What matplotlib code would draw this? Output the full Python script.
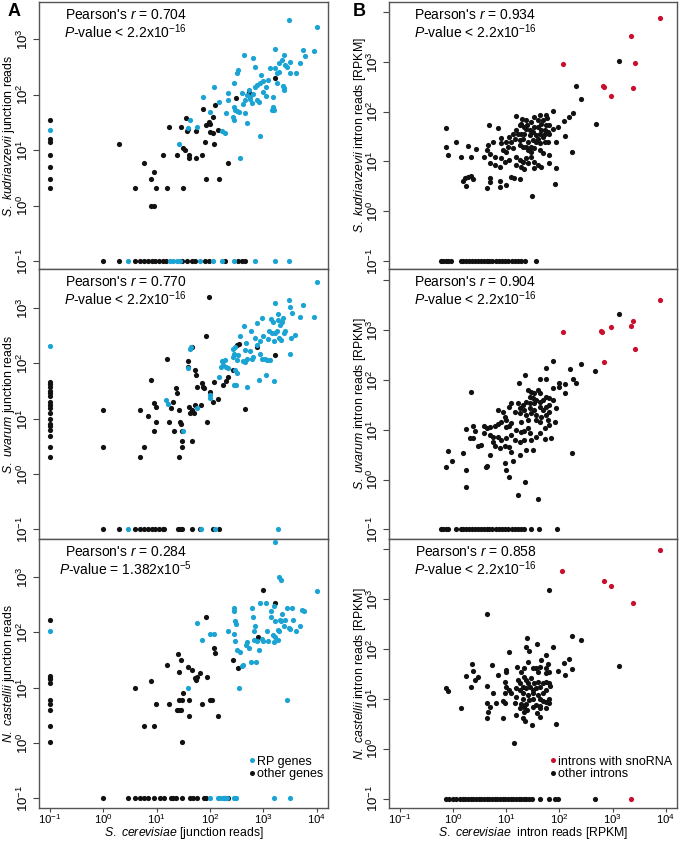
import numpy as np
import matplotlib
matplotlib.use("Agg")
import matplotlib.pyplot as plt
from matplotlib.lines import Line2D
from matplotlib.ticker import NullLocator

plt.rcParams['font.family'] = ['Liberation Sans', 'DejaVu Sans']
plt.rcParams['mathtext.fontset'] = 'custom'
plt.rcParams['mathtext.rm'] = 'Liberation Sans'
plt.rcParams['mathtext.it'] = 'Liberation Sans:italic'
plt.rcParams['mathtext.bf'] = 'Liberation Sans:bold'

CYAN = '#1aa3d3'
RED = '#c8102e'
BLACK = '#111111'

# all values are log10(reads); zero counts are drawn at 0.1 (log10 = -1)
# ---------------- panel A, S. kudriavzevii ----------------
a1_rp = [(1.42, 1.11), (1.58, 1.40), (1.63, 1.54), (1.75, 1.42), (1.86, 1.96), (2.00, 1.69), (2.08, 2.14),
         (2.16, 1.87), (2.22, 1.35), (2.28, 1.30), (2.30, 1.66), (2.33, 1.91), (2.34, 2.03), (2.43, 1.59),
         (2.44, 2.21), (2.44, 1.54), (2.45, 1.77), (2.47, 1.72), (2.51, 1.70), (2.55, 1.68), (2.50, 2.38),
         (2.53, 2.45), (2.56, 0.85), (2.59, 2.03), (2.61, 1.83), (2.63, 2.71), (2.66, 1.67), (2.70, 1.49),
         (2.70, 2.00), (2.72, 2.09), (2.75, 1.96), (2.75, 1.92), (2.78, 1.84), (2.81, 2.66), (2.84, 2.50),
         (2.84, 2.14), (2.88, 2.18), (2.93, 2.21), (2.88, 1.90), (2.91, 1.87), (2.94, 1.25), (2.96, 2.36),
         (3.00, 2.24), (3.04, 2.13), (3.05, 1.97), (3.09, 2.26), (3.13, 2.48), (3.17, 1.77), (3.19, 1.73),
         (3.16, 1.72), (3.18, 1.96), (3.22, 2.82), (3.22, 2.47), (3.25, 2.39), (3.30, 2.41), (3.30, 2.57),
         (3.34, 2.62), (3.36, 2.15), (3.39, 2.11), (3.39, 2.08), (3.38, 2.71), (3.41, 2.53), (3.44, 2.50),
         (3.47, 3.35), (3.49, 2.58), (3.50, 2.39), (3.61, 2.38), (3.69, 2.56), (3.75, 2.80), (3.77, 2.70),
         (3.94, 2.78), (4.01, 3.21), (2.66, 1.90), (2.81, 2.01), (3.00, 2.05), (3.25, 2.20)]
a1_other = [(0.29, 1.11), (0.59, 0.31), (0.77, 0.77), (0.89, 0.48), (0.94, 0.61), (0.99, 0.31), (0.89, 0.0),
            (0.95, 0.0), (1.11, 0.91), (1.20, 0.31), (1.23, 1.42), (1.38, 0.91), (1.45, 1.42), (1.49, 0.31),
            (1.50, 1.04), (1.53, 1.00), (1.58, 1.38), (1.55, 1.58), (1.56, 1.34), (1.61, 0.91), (1.61, 0.85),
            (1.73, 1.34), (1.73, 0.85), (1.84, 0.91), (1.86, 1.74), (1.91, 1.14), (1.92, 0.48), (1.93, 1.45),
            (1.98, 1.51), (2.00, 1.47), (2.00, 1.32), (2.05, 1.60), (2.06, 1.30), (2.08, 1.11), (2.09, 1.82),
            (2.14, 1.36), (2.16, 0.48), (2.34, 0.77), (2.49, 1.93), (2.72, 2.04), (3.21, 2.30)]
a1_rp_cer0 = [1.36]
a1_other_cer0 = [1.54, 1.19, 1.14, 0.91, 0.70, 0.48, 0.31]
a1_rp_sp0 = [0.47, 1.25, 1.31, 1.38, 1.44, 1.81, 2.06, 2.22, 2.44, 2.84, 3.22, 3.47]
a1_other_sp0 = [0.0, 0.29, 0.59, 0.69, 0.76, 0.83, 0.91, 0.97, 1.04, 1.11, 1.17, 1.47, 1.56, 1.66, 1.72,
                1.91, 1.97, 2.28, 2.53, 2.59, 2.66]

# ---------------- panel A, S. uvarum ----------------
a2_rp = [(1.17, 1.34), (1.22, 1.27), (1.50, 0.77), (1.58, 1.92), (1.63, 2.27), (1.64, 2.30), (1.75, 1.19),
         (2.00, 1.43), (2.00, 1.38), (2.16, 1.76), (2.20, 1.94), (2.22, 2.05), (2.25, 2.05), (2.28, 2.06),
         (2.30, 1.94), (2.33, 1.91), (2.25, 1.97), (2.43, 2.27), (2.43, 2.11), (2.44, 2.18), (2.46, 2.30),
         (2.44, 1.61), (2.48, 1.61), (2.47, 1.88), (2.50, 1.82), (2.51, 2.06), (2.53, 2.15), (2.56, 2.49),
         (2.61, 2.05), (2.63, 2.67), (2.66, 2.24), (2.66, 2.03), (2.67, 2.37), (2.69, 1.58), (2.70, 2.08),
         (2.74, 2.23), (2.76, 2.58), (2.78, 2.09), (2.81, 2.11), (2.84, 2.46), (2.88, 2.73), (2.91, 1.70),
         (2.88, 2.33), (2.94, 2.41), (2.94, 2.18), (2.97, 2.09), (2.97, 2.82), (3.00, 2.49), (3.04, 1.79),
         (3.03, 2.09), (3.06, 2.06), (3.08, 2.44), (3.11, 2.59), (3.13, 2.06), (3.14, 2.81), (3.16, 2.56),
         (3.18, 2.76), (3.19, 1.69), (3.20, 2.40), (3.22, 3.09), (3.22, 2.55), (3.25, 2.58), (3.27, 2.90),
         (3.28, 2.79), (3.30, 2.46), (3.31, 2.70), (3.33, 2.43), (3.34, 2.76), (3.36, 2.83), (3.38, 2.55),
         (3.41, 2.58), (3.47, 3.15), (3.49, 3.02), (3.50, 2.18), (3.51, 2.46), (3.53, 2.91), (3.59, 2.52),
         (3.68, 2.85), (3.75, 3.06), (3.94, 2.85), (4.01, 3.48)]
a2_other = [(0.00, 1.15), (0.00, 0.48), (0.69, 1.15), (0.69, 0.30), (0.77, 0.48), (0.83, 1.05), (0.89, 1.70),
            (0.95, 1.28), (0.99, 1.21), (0.94, 0.78), (0.99, 0.95), (1.19, 2.08), (1.23, 0.95), (1.27, 1.19),
            (1.31, 1.30), (1.36, 1.56), (1.38, 1.47), (1.33, 0.78), (1.41, 1.16), (1.44, 0.95), (1.45, 0.90),
            (1.47, 0.78), (1.47, 0.60), (1.48, 0.49), (1.42, 0.30), (1.58, 1.94), (1.59, 2.05), (1.61, 1.21),
            (1.63, 1.10), (1.66, 2.29), (1.66, 0.60), (1.67, 1.16), (1.72, 1.88), (1.73, 1.79), (1.75, 1.58),
            (1.69, 1.11), (1.72, 1.25), (1.83, 1.25), (1.84, 1.64), (1.86, 1.57), (1.89, 1.55), (1.93, 2.49),
            (1.95, 0.95), (1.98, 3.21), (1.99, 1.48), (2.06, 1.30), (2.08, 1.66), (2.14, 1.35), (2.25, 1.61),
            (2.30, 1.68), (2.34, 1.76), (2.43, 1.89), (2.50, 2.33), (2.55, 2.35), (2.66, 1.17), (2.88, 2.30),
            (3.22, 2.15)]
a2_rp_cer0 = [2.32]
a2_other_cer0 = [1.66, 1.62, 1.57, 1.51, 1.46, 1.41, 1.30, 1.25, 1.20, 1.10, 1.00, 0.90, 0.86, 0.80,
                 0.69, 0.48, 0.30]
a2_rp_sp0 = [0.47, 1.83, 2.09, 3.28]
a2_other_sp0 = [0.0, 0.29, 0.59, 0.69, 0.76, 0.83, 0.91, 0.97, 1.04, 1.11, 1.14, 1.39, 1.44, 1.48, 1.66,
                1.81, 2.06, 2.16]

# ---------------- panel A, N. castellii ----------------
a3_rp = [(1.75, 2.17), (1.84, 1.86), (1.99, 1.97), (2.08, 1.97), (2.33, 2.03), (2.44, 2.44), (2.44, 2.38),
         (2.47, 2.20), (2.48, 2.15), (2.44, 1.98), (2.47, 1.85), (2.51, 1.68), (2.56, 1.65), (2.54, 1.00),
         (2.59, 1.39), (2.61, 1.41), (2.68, 1.77), (2.69, 1.82), (2.72, 1.71), (2.77, 1.47), (2.79, 2.44),
         (2.81, 2.27), (2.84, 2.11), (2.83, 2.02), (2.83, 1.86), (2.86, 1.47), (2.91, 1.68), (2.88, 1.85),
         (2.94, 2.53), (2.97, 1.88), (2.99, 1.85), (3.05, 2.53), (3.06, 2.02), (3.09, 1.85), (3.14, 2.27),
         (3.14, 2.38), (3.18, 1.95), (3.19, 2.48), (3.20, 1.82), (3.22, 2.20), (3.22, 1.92), (3.28, 2.05),
         (3.28, 1.86), (3.30, 2.02), (3.31, 2.23), (3.33, 2.20), (3.34, 2.33), (3.38, 2.11), (3.41, 2.23),
         (3.44, 2.45), (3.45, 0.78), (3.47, 2.08), (3.50, 2.06), (3.53, 2.45), (3.56, 2.23), (3.61, 2.03),
         (3.69, 2.11), (3.73, 2.41), (3.76, 2.38), (4.00, 2.74), (1.58, 1.00), (3.29, 3.01), (3.33, 2.95),
         (3.22, 3.63)]
a3_other = [(0.59, 1.00), (0.77, 0.31), (0.89, 1.12), (0.95, 0.31), (0.99, 0.70), (1.20, 1.41), (1.23, 0.70),
            (1.39, 1.61), (1.42, 1.28), (1.45, 1.50), (1.42, 0.78), (1.42, 0.60), (1.45, 0.60), (1.47, 0.01),
            (1.49, 0.90), (1.58, 1.38), (1.61, 0.78), (1.61, 0.48), (1.66, 1.32), (1.72, 1.17), (1.73, 1.14),
            (1.76, 1.20), (1.81, 1.26), (1.84, 0.70), (1.94, 1.20), (1.93, 2.27), (2.00, 0.78), (2.04, 0.78),
            (2.08, 1.71), (2.09, 1.62), (2.14, 0.48), (2.43, 1.51), (2.53, 1.35), (2.89, 1.91), (2.99, 2.77),
            (3.22, 2.53), (1.47, 0.78), (1.38, 0.60)]
a3_rp_cer0 = [2.03]
a3_other_cer0 = [2.23, 1.21, 1.18, 1.15, 1.08, 0.78, 0.70, 0.60, 0.31, 0.01]
a3_rp_sp0 = [2.00, 2.14, 2.19, 2.24, 2.28, 2.31, 2.44, 2.48, 3.20, 3.49]
a3_other_sp0 = [0.00, 0.46, 0.59, 0.69, 0.77, 0.84, 0.94, 1.06, 1.13, 1.26, 1.31, 1.36, 1.47, 1.63, 1.68,
                1.75, 1.88, 1.93, 2.26, 2.34]

# ---------------- panel B, S. kudriavzevii (RPKM) ----------------
b1_sno = [(2.06, 2.95), (2.81, 2.51), (2.83, 2.50), (2.97, 2.32), (3.34, 3.52), (3.42, 2.98), (3.38, 2.47),
          (3.89, 3.87)]
b1_other = [(2.31, 2.51), (2.41, 2.26), (-0.13, 1.68), (-0.14, 1.29), (-0.09, 1.13), (0.05, 1.39), (0.14, 1.08),
            (0.28, 1.31), (0.33, 1.08), (0.43, 1.25), (0.68, 1.74), (0.84, 1.68), (0.63, 1.23), (0.66, 1.33),
            (0.75, 1.39), (0.91, 1.48), (0.59, 1.08), (0.69, 1.15), (1.18, 1.91), (1.30, 1.86), (1.25, 1.73),
            (1.39, 1.74), (1.59, 1.83), (1.74, 1.93), (1.76, 1.88), (1.88, 2.01), (2.09, 1.82), (2.18, 1.90),
            (2.25, 1.98), (1.97, 1.70), (2.11, 1.51), (2.24, 1.19), (1.06, 1.49), (1.13, 1.56), (1.22, 1.55),
            (1.28, 1.56), (1.38, 1.66), (1.44, 1.63), (1.53, 1.70), (1.59, 1.70), (1.66, 1.63), (1.72, 1.63),
            (1.78, 1.60), (1.81, 1.56), (1.31, 1.46), (1.41, 1.39), (1.50, 1.43), (1.56, 1.39), (1.63, 1.36),
            (1.72, 1.39), (1.78, 1.39), (1.56, 1.53), (1.63, 1.56), (1.69, 1.49), (1.88, 1.66), (1.94, 1.39),
            (0.91, 1.36), (1.00, 1.39), (1.03, 1.29), (1.25, 1.33), (1.31, 1.29), (1.41, 1.23), (1.47, 1.19),
            (1.63, 1.23), (1.69, 1.16), (1.81, 1.13), (0.94, 1.23), (1.00, 1.19), (0.78, 1.09), (0.91, 1.06),
            (1.19, 1.09), (1.25, 1.03), (1.31, 0.99), (1.38, 1.06), (1.47, 1.09), (1.41, 0.96), (0.69, 0.96),
            (0.78, 0.93), (0.88, 0.89), (0.97, 0.99), (1.06, 1.03), (1.19, 0.93), (1.28, 0.88), (1.34, 0.84),
            (1.53, 0.99), (1.59, 0.93), (1.53, 0.86), (1.66, 0.89), (1.81, 0.97), (1.94, 0.86), (0.22, 0.67),
            (0.28, 0.69), (0.34, 0.71), (0.38, 0.65), (0.19, 0.61), (0.24, 0.51), (0.69, 0.67), (0.70, 0.59),
            (0.89, 0.61), (1.09, 0.69), (1.14, 0.66), (1.25, 0.65), (0.63, 0.46), (0.89, 0.48), (1.00, 0.53),
            (1.91, 0.55), (1.49, 0.31), (3.11, 3.02), (2.68, 1.76), (1.28, 1.76), (1.34, 1.70), (1.47, 1.80),
            (1.50, 1.60), (1.66, 1.76), (1.69, 1.83), (1.75, 1.73), (1.63, 1.93), (1.53, 1.90), (1.44, 1.53),
            (1.34, 1.56), (1.19, 1.63), (1.16, 1.46), (1.09, 1.39), (1.38, 1.83), (1.81, 1.73), (1.72, 1.56),
            (1.59, 1.46), (1.47, 1.29), (1.53, 1.26), (1.38, 1.29), (1.25, 1.43), (1.13, 1.26)]
b1_other_sp0 = [-0.23, -0.19, -0.14, -0.09, -0.04, 0.14, 0.19, 0.24, 0.30, 0.36, 0.41, 0.46, 0.52, 0.58,
                0.63, 0.68, 0.74, 0.80, 0.86, 0.92, 0.98, 1.04, 1.10, 1.16, 1.22, 1.28, 1.36, 1.56]

# ---------------- panel B, S. uvarum (RPKM) ----------------
b2_sno = [(2.06, 2.95), (2.79, 2.98), (2.80, 2.95), (2.97, 3.05), (3.34, 3.07), (3.38, 3.18), (3.42, 2.61),
          (2.83, 2.35), (3.89, 3.59)]
b2_other = [(3.11, 3.31), (-0.14, 0.26), (-0.09, 0.57), (-0.03, 0.37), (0.24, 0.19), (0.24, -0.14),
            (1.22, -0.30), (1.36, -0.04), (1.59, -0.39), (2.24, 0.53), (2.41, 2.31), (2.67, 2.18),
            (1.88, 2.38), (1.74, 2.24), (2.19, 2.21), (2.25, 2.01), (2.31, 1.94), (1.36, 2.09), (1.64, 2.01),
            (1.74, 2.01), (1.23, 1.94), (1.88, 1.84), (1.99, 1.94), (1.99, 1.86), (2.11, 1.91), (2.11, 1.73),
            (0.33, 1.76), (1.41, 1.80), (1.47, 1.76), (1.53, 1.73), (1.59, 1.80), (1.63, 1.73), (1.44, 1.66),
            (1.50, 1.63), (1.56, 1.60), (1.38, 1.56), (1.44, 1.53), (1.53, 1.53), (1.63, 1.56), (1.69, 1.60),
            (1.75, 1.66), (1.81, 1.63), (1.22, 1.53), (1.31, 1.49), (1.25, 1.43), (1.34, 1.40), (1.44, 1.43),
            (1.53, 1.40), (1.63, 1.46), (1.69, 1.40), (1.75, 1.46), (1.81, 1.49), (1.88, 1.60), (1.16, 1.36),
            (1.25, 1.33), (1.38, 1.29), (1.47, 1.33), (1.56, 1.29), (1.66, 1.26), (1.75, 1.29), (1.81, 1.36),
            (1.94, 1.43), (1.91, 1.16), (1.78, 1.19), (1.63, 1.16), (1.56, 1.19), (1.41, 1.19), (1.28, 1.16),
            (1.09, 1.53), (1.06, 1.46), (0.84, 1.39), (0.94, 1.36), (0.97, 1.26), (1.00, 1.19), (0.25, 1.01),
            (0.38, 1.07), (0.41, 0.98), (0.59, 1.07), (0.63, 1.03), (0.69, 1.05), (0.78, 1.07), (0.84, 1.11),
            (0.91, 1.16), (1.00, 1.05), (1.06, 1.07), (1.09, 1.13), (0.59, 0.93), (0.69, 0.89), (0.75, 0.86),
            (0.84, 0.86), (0.91, 0.79), (1.00, 0.83), (1.09, 0.89), (1.19, 0.99), (1.28, 0.96), (1.34, 0.98),
            (1.41, 1.03), (1.44, 0.93), (0.31, 0.84), (0.38, 0.83), (0.47, 0.67), (0.53, 0.69), (0.75, 0.76),
            (0.78, 0.67), (0.88, 0.63), (0.97, 0.67), (1.06, 0.66), (1.16, 0.79), (1.25, 0.76), (1.34, 0.79),
            (1.47, 0.79), (1.56, 0.86), (1.63, 0.93), (1.72, 1.03), (1.81, 1.09), (0.19, 0.54), (0.69, 0.49),
            (1.09, 0.56), (1.25, 0.49), (1.38, 0.59), (1.50, 0.59), (1.72, 0.81), (1.84, 0.83), (0.61, 0.26),
            (0.64, 0.28), (0.98, 0.34), (0.99, 0.19), (1.06, 0.06), (1.13, 0.37)]
b2_other_sp0 = [-0.23, -0.19, -0.14, -0.09, 0.05, 0.14, 0.19, 0.24, 0.30, 0.36, 0.41, 0.46, 0.52, 0.58,
                0.63, 0.68, 0.74, 0.80, 0.86, 0.92, 0.98, 1.04, 1.10, 1.16, 1.22, 1.28, 1.33, 1.47, 1.61, 1.95]

# ---------------- panel B, N. castellii (RPKM) ----------------
b3_sno = [(2.05, 3.55), (2.83, 3.35), (2.97, 3.25), (3.38, 2.91), (3.89, 3.97)]
b3_sno_sp0 = [3.34]
b3_other = [(1.80, 3.17), (0.63, 2.70), (3.11, 1.66), (2.24, 2.26), (2.41, 2.18), (1.14, 0.12), (1.39, 2.21),
            (1.05, 1.93), (1.38, 2.04), (1.43, 1.96), (1.58, 2.09), (1.88, 2.03), (1.74, 1.88), (1.41, 1.74),
            (1.66, 1.78), (0.36, 1.70), (0.38, 1.56), (0.24, 1.46), (0.47, 1.44), (0.41, 1.37), (0.73, 1.67),
            (0.84, 1.47), (1.00, 1.57), (1.00, 1.54), (1.21, 1.64), (1.34, 1.62), (1.28, 1.54), (1.50, 1.61),
            (1.56, 1.61), (1.63, 1.64), (1.59, 1.54), (1.78, 1.69), (1.74, 1.61), (1.75, 1.51), (1.81, 1.54),
            (1.97, 1.56), (2.09, 1.72), (2.18, 1.80), (2.11, 1.47), (2.24, 1.59), (-0.13, 1.22), (-0.09, 1.16),
            (0.33, 1.24), (0.63, 1.26), (0.14, 0.82), (0.75, 1.11), (0.97, 1.33), (1.00, 1.24), (1.06, 1.17),
            (1.09, 1.11), (0.97, 1.12), (1.22, 1.38), (1.25, 1.31), (1.34, 1.44), (1.38, 1.38), (1.41, 1.31),
            (1.47, 1.41), (1.53, 1.31), (1.59, 1.34), (1.31, 1.24), (1.38, 1.21), (1.44, 1.24), (1.50, 1.17),
            (1.56, 1.21), (1.63, 1.24), (1.69, 1.31), (1.75, 1.34), (1.80, 1.31), (1.83, 1.25), (1.19, 1.21),
            (1.25, 1.17), (1.31, 1.11), (1.41, 1.07), (1.50, 1.11), (1.59, 1.07), (1.69, 1.11), (1.75, 1.17),
            (1.19, 1.04), (1.31, 0.99), (1.43, 0.97), (1.51, 0.99), (1.63, 0.99), (1.69, 0.96), (1.75, 0.94),
            (1.81, 0.99), (1.81, 0.92), (0.63, 0.92), (0.80, 0.92), (0.94, 0.96), (0.97, 0.92), (1.28, 0.90),
            (1.38, 0.89), (1.56, 0.87), (0.69, 0.84), (1.16, 0.92), (1.25, 0.81), (1.34, 0.84), (1.50, 0.84),
            (1.63, 0.85), (1.74, 0.81), (0.66, 0.74), (0.64, 0.61), (0.94, 0.61), (1.19, 0.67), (1.34, 0.74),
            (1.39, 0.77), (1.31, 0.61), (1.58, 0.72), (1.64, 0.81), (1.36, 0.56), (1.49, 0.47), (1.94, 0.49),
            (1.63, 0.64)]
b3_other_sp0 = [-0.13, -0.08, 0.0, 0.05, 0.13, 0.18, 0.23, 0.28, 0.33, 0.38, 0.43, 0.48, 0.53, 0.58, 0.63,
                0.68, 0.73, 0.78, 0.83, 0.88, 0.93, 0.98, 1.03, 1.08, 1.13, 1.18, 1.23, 1.28, 1.33, 1.38,
                1.43, 1.49, 1.64, 1.80, 1.91, 1.97, 2.66]

stats = [("0.704", "< 2.2x10$^{-16}$"), ("0.770", "< 2.2x10$^{-16}$"), ("0.284", "= 1.382x10$^{-5}$"),
         ("0.934", "< 2.2x10$^{-16}$"), ("0.904", "< 2.2x10$^{-16}$"), ("0.858", "< 2.2x10$^{-16}$")]
species = ["S.\\ kudriavzevii", "S.\\ uvarum", "N.\\ castellii"]

ZERO = -1.0  # log10 position used for zero counts


def pts(pairs, cer0=None, sp0=None):
    xs = [p[0] for p in pairs]
    ys = [p[1] for p in pairs]
    if cer0:
        xs += [ZERO] * len(cer0)
        ys += list(cer0)
    if sp0:
        xs += list(sp0)
        ys += [ZERO] * len(sp0)
    return 10.0 ** np.array(xs), 10.0 ** np.array(ys)


fig = plt.figure(figsize=(6.8, 8.42), dpi=100)
rows = [(0.6805, 0.3171), (0.3599, 0.3206), (0.0404, 0.3195)]
cols = [(0.0574, 0.425), (0.572, 0.4236)]
ylims_a = [(-1.144, 3.667), (-1.176, 3.71), (-1.175, 3.69)]
ylims_b = [(-1.16, 4.2), (-1.19, 4.22), (-1.19, 4.2)]

groups_a = [
    (pts(a1_other, a1_other_cer0, a1_other_sp0), pts(a1_rp, a1_rp_cer0, a1_rp_sp0)),
    (pts(a2_other, a2_other_cer0, a2_other_sp0), pts(a2_rp, a2_rp_cer0, a2_rp_sp0)),
    (pts(a3_other, a3_other_cer0, a3_other_sp0), pts(a3_rp, a3_rp_cer0, a3_rp_sp0)),
]
groups_b = [
    (pts(b1_other, None, b1_other_sp0), pts(b1_sno)),
    (pts(b2_other, None, b2_other_sp0), pts(b2_sno)),
    (pts(b3_other, None, b3_other_sp0), pts(b3_sno, None, b3_sno_sp0)),
]

FS = 9.5
for c in range(2):
    for r in range(3):
        b, h = rows[r]
        l, w = cols[c]
        ax = fig.add_axes([l, b, w, h])
        ax.set_xscale('log')
        ax.set_yscale('log')
        ax.set_xlim(10 ** -1.206, 10 ** 4.21)
        ylo, yhi = (ylims_a if c == 0 else ylims_b)[r]
        ax.set_ylim(10 ** ylo, 10 ** yhi)

        (ox, oy), (hx, hy) = (groups_a if c == 0 else groups_b)[r]
        ax.scatter(ox, oy, s=14, color=BLACK, linewidths=0, zorder=3)
        ax.scatter(hx, hy, s=14, color=(CYAN if c == 0 else RED), linewidths=0, zorder=3)

        yt = [10.0 ** k for k in range(-1, 4)]
        ytl = [r'$10^{%d}$' % k for k in range(-1, 4)]
        if c == 1:
            yt.append(1e4)
            ytl.append('')
        ax.set_yticks(yt)
        ax.set_yticklabels(ytl, rotation=90, va='center', fontsize=FS)
        ax.yaxis.set_minor_locator(NullLocator())
        ax.xaxis.set_minor_locator(NullLocator())
        ax.tick_params(axis='y', length=4, width=0.8, pad=1.5, color='#444444')

        if r == 2:
            xt = [10.0 ** k for k in range(-1, 5)]
            ax.set_xticks(xt)
            ax.set_xticklabels([r'$10^{%d}$' % k for k in range(-1, 5)], fontsize=8.2)
            ax.tick_params(axis='x', length=3, width=0.8, pad=0.2, color='#444444')
            if c == 0:
                ax.set_xlabel(r'$\it{S.\ cerevisiae}$ [junction reads]', fontsize=8.8)
            else:
                ax.set_xlabel(r'$\it{S.\ cerevisiae}$  intron reads [RPKM]', fontsize=8.8)
            # anchor the label by its bottom edge, just above the figure's lower border
            ax.xaxis.set_label_coords(0.5, -0.1245)
            ax.xaxis.label.set_va('bottom')
        else:
            ax.set_xticks([])

        for sp in ax.spines.values():
            sp.set_color('#555555')
            sp.set_linewidth(1.0)

        if c == 0:
            ax.set_ylabel(r'$\it{%s}$ junction reads' % species[r], fontsize=8.8)
            ax.yaxis.set_label_coords(-0.075, 0.5)
        else:
            ax.set_ylabel(r'$\it{%s}$ intron reads [RPKM]' % species[r], fontsize=8.8)
            ax.yaxis.set_label_coords(-0.074, 0.5)

        # correlation and p-value as one two-line text block
        rv, pv = stats[c * 3 + r]
        ax.text(0.30, 0.978, "Pearson's $r$ = " + rv + "\n$P$-value " + pv, transform=ax.transAxes,
                ha='center', va='top', multialignment='center', linespacing=1.05,
                fontsize=FS + 0.5)

        if r == 2:
            hl_col = CYAN if c == 0 else RED
            handles = [Line2D([], [], ls='', marker='o', ms=3.6, mec='none', color=hl_col),
                       Line2D([], [], ls='', marker='o', ms=3.6, mec='none', color=BLACK)]
            labels = ['RP genes', 'other genes'] if c == 0 else ['introns with snoRNA', 'other introns']
            ax.legend(handles, labels, loc='lower right', bbox_to_anchor=(1.015, 0.07), frameon=False,
                      fontsize=9, handlelength=0.5, handletextpad=0.2, labelspacing=0.05,
                      borderpad=0.2)

fig.text(8 / 680, 1 - 12 / 842, 'A', fontsize=13, fontweight='bold', ha='left', va='center')
fig.text(353 / 680, 1 - 11 / 842, 'B', fontsize=13, fontweight='bold', ha='left', va='center')

fig.savefig('out.png', dpi=100)
